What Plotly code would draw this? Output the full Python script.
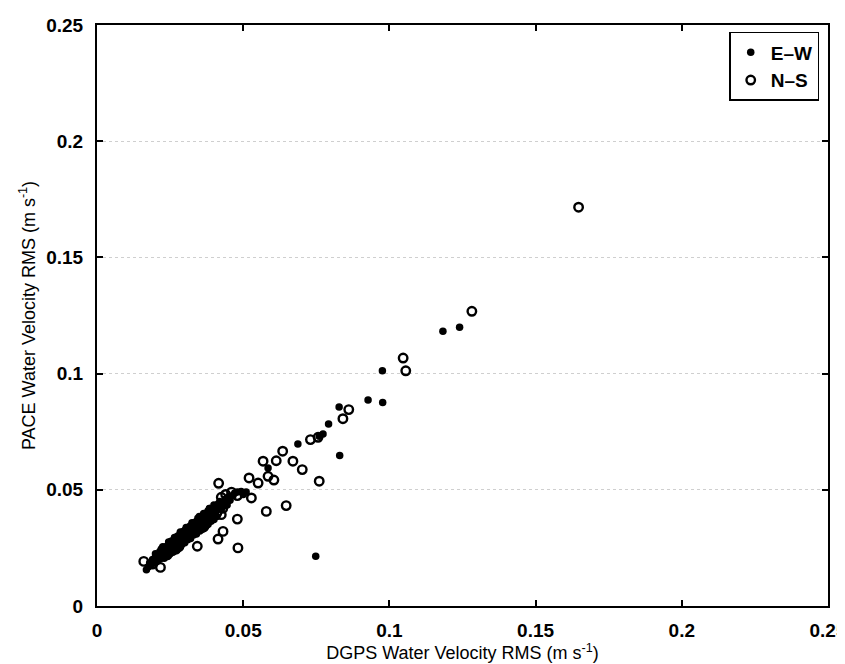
import plotly.graph_objects as go

# E-W (filled dots)
ew_x = [0.1240, 0.1183, 0.0976, 0.0927, 0.0977, 0.0828, 0.0792, 0.0773, 0.0760, 0.0687,
        0.0830, 0.0585, 0.0748, 0.0493, 0.0471, 0.0500, 0.0480, 0.0450, 0.0440, 0.0430,
        0.0420, 0.0402, 0.0380, 0.0390, 0.0370, 0.0360, 0.0350, 0.0340, 0.0345, 0.0330,
        0.0320, 0.0325, 0.0310, 0.0300, 0.0305, 0.0290, 0.0295, 0.0280, 0.0285, 0.0270,
        0.0275, 0.0260, 0.0265, 0.0250, 0.0255, 0.0240, 0.0245, 0.0230, 0.0235, 0.0220,
        0.0225, 0.0210, 0.0215, 0.0200, 0.0205, 0.0190, 0.0195, 0.0180, 0.0185, 0.0169,
        0.0175, 0.0360, 0.0370, 0.0380, 0.0395, 0.0410, 0.0330, 0.0315, 0.0280, 0.0260,
        0.0240, 0.0228, 0.0250, 0.0300, 0.0320, 0.0350, 0.0385, 0.0400, 0.0415,
        0.0215, 0.0235, 0.0255, 0.0275, 0.0295, 0.0315, 0.0335, 0.0355, 0.0375, 0.0395,
        0.0230, 0.0250, 0.0270, 0.0290, 0.0310, 0.0330, 0.0350, 0.0370, 0.0390, 0.0410,
        0.0435, 0.0455, 0.0465, 0.0510, 0.0200, 0.0220, 0.0245, 0.0265, 0.0285, 0.0305,
        0.0325, 0.0345, 0.0365, 0.0405, 0.0425, 0.0445,
        0.0225, 0.0245, 0.0265, 0.0285, 0.0305, 0.0325, 0.0345, 0.0365, 0.0385,
        0.0240, 0.0260, 0.0280, 0.0300, 0.0320, 0.0340, 0.0360, 0.0380, 0.0400]
ew_y = [0.1199, 0.1182, 0.1012, 0.0886, 0.0876, 0.0856, 0.0783, 0.0740, 0.0730, 0.0697,
        0.0648, 0.0594, 0.0214, 0.0493, 0.0486, 0.0480, 0.0490, 0.0470, 0.0460, 0.0440,
        0.0450, 0.0422, 0.0410, 0.0400, 0.0390, 0.0380, 0.0370, 0.0350, 0.0340, 0.0340,
        0.0330, 0.0310, 0.0320, 0.0310, 0.0295, 0.0300, 0.0285, 0.0290, 0.0275, 0.0280,
        0.0265, 0.0270, 0.0255, 0.0260, 0.0245, 0.0250, 0.0235, 0.0240, 0.0225, 0.0230,
        0.0215, 0.0220, 0.0205, 0.0210, 0.0195, 0.0200, 0.0185, 0.0185, 0.0175, 0.0156,
        0.0168, 0.0345, 0.0360, 0.0375, 0.0385, 0.0420, 0.0320, 0.0300, 0.0270, 0.0250,
        0.0230, 0.0250, 0.0275, 0.0325, 0.0345, 0.0385, 0.0420, 0.0435, 0.0440,
        0.0235, 0.0255, 0.0280, 0.0300, 0.0320, 0.0340, 0.0360, 0.0380, 0.0400, 0.0415,
        0.0205, 0.0225, 0.0245, 0.0265, 0.0285, 0.0305, 0.0325, 0.0345, 0.0365, 0.0385,
        0.0430, 0.0455, 0.0475, 0.0490, 0.0225, 0.0245, 0.0270, 0.0290, 0.0310, 0.0330,
        0.0350, 0.0370, 0.0395, 0.0400, 0.0415, 0.0435,
        0.0255, 0.0275, 0.0295, 0.0318, 0.0338, 0.0358, 0.0378, 0.0398, 0.0420,
        0.0215, 0.0232, 0.0252, 0.0272, 0.0290, 0.0310, 0.0330, 0.0352, 0.0372]

# N-S (open circles)
ns_x = [0.1647, 0.1282, 0.1047, 0.1056, 0.0861, 0.0841, 0.0756, 0.0730, 0.0635, 0.0568,
        0.0613, 0.0670, 0.0702, 0.0520, 0.0551, 0.0585, 0.0605, 0.0760, 0.0416, 0.0579,
        0.0647, 0.0480, 0.0414, 0.0431, 0.0482, 0.0528, 0.0425, 0.0425, 0.0343, 0.0160,
        0.0217, 0.0440, 0.0460, 0.0480, 0.0400, 0.0385, 0.0370, 0.0355, 0.0340, 0.0325,
        0.0310, 0.0300, 0.0290, 0.0275, 0.0260, 0.0250, 0.0240, 0.0230, 0.0215, 0.0200,
        0.0190, 0.0270, 0.0280, 0.0350, 0.0365, 0.0390, 0.0410, 0.0430]
ns_y = [0.1716, 0.1268, 0.1067, 0.1012, 0.0845, 0.0806, 0.0726, 0.0716, 0.0666, 0.0623,
        0.0625, 0.0623, 0.0587, 0.0551, 0.0529, 0.0558, 0.0542, 0.0537, 0.0528, 0.0407,
        0.0432, 0.0374, 0.0288, 0.0321, 0.0250, 0.0465, 0.0468, 0.0393, 0.0257, 0.0192,
        0.0166, 0.0480, 0.0490, 0.0475, 0.0410, 0.0380, 0.0350, 0.0370, 0.0330, 0.0335,
        0.0300, 0.0290, 0.0310, 0.0270, 0.0240, 0.0250, 0.0220, 0.0230, 0.0210, 0.0195,
        0.0180, 0.0245, 0.0255, 0.0330, 0.0340, 0.0395, 0.0400, 0.0420]

tick_vals = [0, 0.05, 0.1, 0.15, 0.2, 0.25]
tick_text = ["0", "0.05", "0.1", "0.15", "0.2", "0.25"]

FONT = "Liberation Sans"

fig = go.Figure()
fig.add_trace(go.Scatter(
    x=ew_x, y=ew_y, mode="markers", name="<b>E\u2013W</b>",
    marker=dict(symbol="circle", size=7.5, color="black", line=dict(width=0)),
))
fig.add_trace(go.Scatter(
    x=ns_x, y=ns_y, mode="markers", name="<b>N\u2013S</b>",
    marker=dict(symbol="circle-open", size=8.5, color="black", line=dict(width=2.4, color="black")),
))

axis_common = dict(
    range=[0, 0.25], tickvals=tick_vals, ticktext=["<b>%s</b>" % t for t in tick_text],
    ticks="inside", ticklen=6, tickwidth=1.5, tickcolor="black",
    showline=True, linecolor="black", linewidth=2, mirror="ticks",
    zeroline=False, automargin=False, ticklabeloverflow="allow",
    tickfont=dict(family=FONT, size=19, color="black"),
)

fig.update_xaxes(
    **axis_common, showgrid=False, ticklabelstandoff=6,
    title=dict(text="DGPS Water Velocity RMS (m s<sup>-1</sup>)",
               font=dict(family=FONT, size=18, color="black"),
               standoff=6),
)
fig.update_yaxes(
    **axis_common, showgrid=True, gridcolor="#cfcfcf", griddash="dot", gridwidth=1,
    ticklabelstandoff=8,
    title=dict(text="PACE Water Velocity RMS (m s<sup>-1</sup>)",
               font=dict(family=FONT, size=18, color="black"),
               standoff=6),
)

fig.update_layout(
    width=845, height=664,
    margin=dict(l=89, r=25, t=17, b=66),
    paper_bgcolor="white", plot_bgcolor="white",
    showlegend=True,
    legend=dict(
        x=0.988, y=0.988, xanchor="right", yanchor="top",
        bgcolor="white", bordercolor="black", borderwidth=1.5,
        font=dict(family=FONT, size=19, color="black"),
        itemwidth=30, tracegroupgap=0,
    ),
)

fig.write_html("out.html")
